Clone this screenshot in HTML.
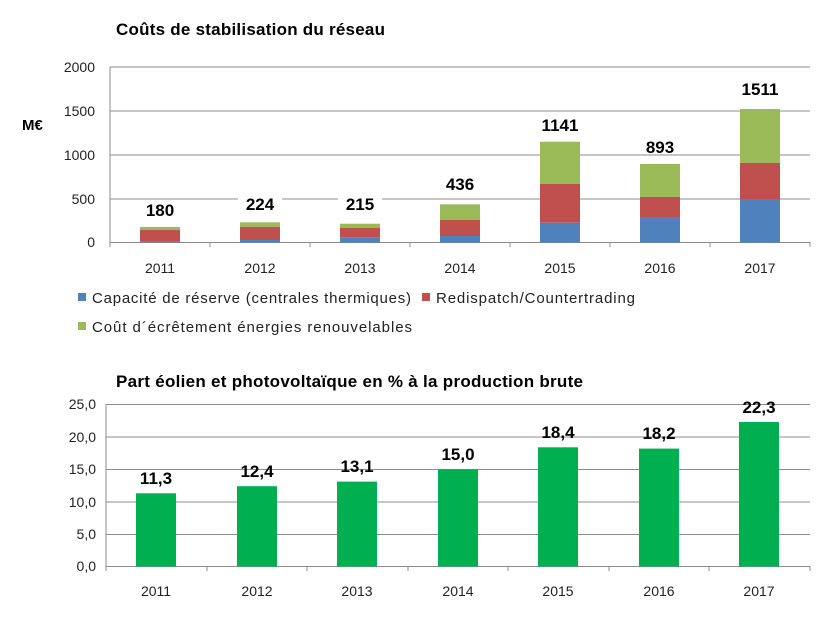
<!DOCTYPE html>
<html><head><meta charset="utf-8"><style>body{margin:0;background:#fff}svg{display:block}</style></head><body>
<svg width="825" height="619" xmlns="http://www.w3.org/2000/svg" font-family="Liberation Sans, sans-serif">
<text x="116" y="35" font-size="17" font-weight="bold" textLength="269">Coûts de stabilisation du réseau</text>
<g stroke="#8c8c8c" stroke-width="1">
<line x1="110" y1="67" x2="810" y2="67"/><line x1="110" y1="111" x2="810" y2="111"/><line x1="110" y1="155" x2="810" y2="155"/><line x1="110" y1="199" x2="810" y2="199"/><line x1="110" y1="242.5" x2="810" y2="242.5"/>
<line x1="110" y1="67" x2="110" y2="247"/>
<line x1="210" y1="242" x2="210" y2="247"/><line x1="310" y1="242" x2="310" y2="247"/><line x1="410" y1="242" x2="410" y2="247"/><line x1="510" y1="242" x2="510" y2="247"/><line x1="610" y1="242" x2="610" y2="247"/><line x1="710" y1="242" x2="710" y2="247"/><line x1="810" y1="242" x2="810" y2="247"/>
</g>
<g font-size="14" text-anchor="end" fill="#222">
<text x="95" y="72">2000</text><text x="95" y="116">1500</text><text x="95" y="160">1000</text><text x="95" y="204">500</text><text x="95" y="247">0</text>
</g>
<text x="22" y="130" font-size="15" font-weight="bold">M€</text>
<g>
<rect x="140" y="241.6" width="40" height="0.9" fill="#4f81bd"/><rect x="140" y="230" width="40" height="11.6" fill="#c0504d"/><rect x="140" y="227" width="40" height="3" fill="#9bbb59"/>
<rect x="240" y="240" width="40" height="2.5" fill="#4f81bd"/><rect x="240" y="226.7" width="40" height="13.3" fill="#c0504d"/><rect x="240" y="222.3" width="40" height="4.4" fill="#9bbb59"/>
<rect x="340" y="237.3" width="40" height="5.2" fill="#4f81bd"/><rect x="340" y="228" width="40" height="9.3" fill="#c0504d"/><rect x="340" y="223.7" width="40" height="4.3" fill="#9bbb59"/>
<rect x="440" y="236" width="40" height="6.5" fill="#4f81bd"/><rect x="440" y="220" width="40" height="16" fill="#c0504d"/><rect x="440" y="204.3" width="40" height="15.7" fill="#9bbb59"/>
<rect x="540" y="222.7" width="40" height="19.8" fill="#4f81bd"/><rect x="540" y="184" width="40" height="38.7" fill="#c0504d"/><rect x="540" y="141.7" width="40" height="42.3" fill="#9bbb59"/>
<rect x="640" y="217" width="40" height="25.5" fill="#4f81bd"/><rect x="640" y="197" width="40" height="20" fill="#c0504d"/><rect x="640" y="164" width="40" height="33" fill="#9bbb59"/>
<rect x="740" y="199" width="40" height="43.5" fill="#4f81bd"/><rect x="740" y="163" width="40" height="36" fill="#c0504d"/><rect x="740" y="109" width="40" height="54" fill="#9bbb59"/>
</g>
<g font-size="17" font-weight="bold" text-anchor="middle" fill="#000">
<rect x="138" y="200" width="44" height="22" fill="#fff"/><text x="160" y="216">180</text>
<rect x="238" y="194" width="44" height="22" fill="#fff"/><text x="260" y="210">224</text>
<rect x="338" y="194" width="44" height="22" fill="#fff"/><text x="360" y="210">215</text>
<text x="460" y="190">436</text><text x="560" y="131">1141</text><text x="660" y="153">893</text><text x="760" y="95">1511</text>
</g>
<g font-size="14" text-anchor="middle" fill="#222">
<text x="160" y="273">2011</text><text x="260" y="273">2012</text><text x="360" y="273">2013</text><text x="460" y="273">2014</text><text x="560" y="273">2015</text><text x="660" y="273">2016</text><text x="760" y="273">2017</text>
</g>
<g font-size="15" fill="#222">
<rect x="78" y="293" width="8" height="8" fill="#4f81bd"/><text x="92" y="303" textLength="319">Capacité de réserve (centrales thermiques)</text>
<rect x="422" y="293" width="8" height="8" fill="#c0504d"/><text x="436" y="303" textLength="199">Redispatch/Countertrading</text>
<rect x="78" y="322" width="8" height="8" fill="#9bbb59"/><text x="92" y="332" textLength="320">Coût d´écrêtement énergies renouvelables</text>
</g>
<text x="116" y="387" font-size="17" font-weight="bold" textLength="467">Part éolien et photovoltaïque en % à la production brute</text>
<g stroke="#8c8c8c" stroke-width="1">
<line x1="106" y1="404.5" x2="810" y2="404.5"/><line x1="106" y1="437" x2="810" y2="437"/><line x1="106" y1="469.5" x2="810" y2="469.5"/><line x1="106" y1="502" x2="810" y2="502"/><line x1="106" y1="534.5" x2="810" y2="534.5"/><line x1="106" y1="566.5" x2="810" y2="566.5"/>
<line x1="106" y1="404" x2="106" y2="571"/>
<line x1="207" y1="566" x2="207" y2="571"/><line x1="307" y1="566" x2="307" y2="571"/><line x1="408" y1="566" x2="408" y2="571"/><line x1="508" y1="566" x2="508" y2="571"/><line x1="609" y1="566" x2="609" y2="571"/><line x1="709" y1="566" x2="709" y2="571"/><line x1="810" y1="566" x2="810" y2="571"/>
</g>
<g font-size="14" text-anchor="end" fill="#222">
<text x="96" y="409">25,0</text><text x="96" y="442">20,0</text><text x="96" y="474">15,0</text><text x="96" y="507">10,0</text><text x="96" y="539">5,0</text><text x="96" y="571">0,0</text>
</g>
<g fill="#00b050">
<rect x="136" y="493.3" width="40" height="73.2"/><rect x="237" y="486.2" width="40" height="80.3"/><rect x="337" y="481.6" width="40" height="84.9"/><rect x="438" y="469.3" width="40" height="97.2"/><rect x="538" y="447.3" width="40" height="119.2"/><rect x="639" y="448.6" width="40" height="117.9"/><rect x="739" y="422" width="40" height="144.5"/>
</g>
<g font-size="17" font-weight="bold" text-anchor="middle" fill="#000">
<text x="156" y="484">11,3</text><text x="257" y="477">12,4</text><text x="357" y="472">13,1</text><text x="458" y="460">15,0</text><text x="558" y="438">18,4</text><text x="659" y="439">18,2</text><text x="759" y="413">22,3</text>
</g>
<g font-size="14" text-anchor="middle" fill="#222">
<text x="156" y="596">2011</text><text x="257" y="596">2012</text><text x="357" y="596">2013</text><text x="458" y="596">2014</text><text x="558" y="596">2015</text><text x="659" y="596">2016</text><text x="759" y="596">2017</text>
</g>
</svg>
</body></html>
